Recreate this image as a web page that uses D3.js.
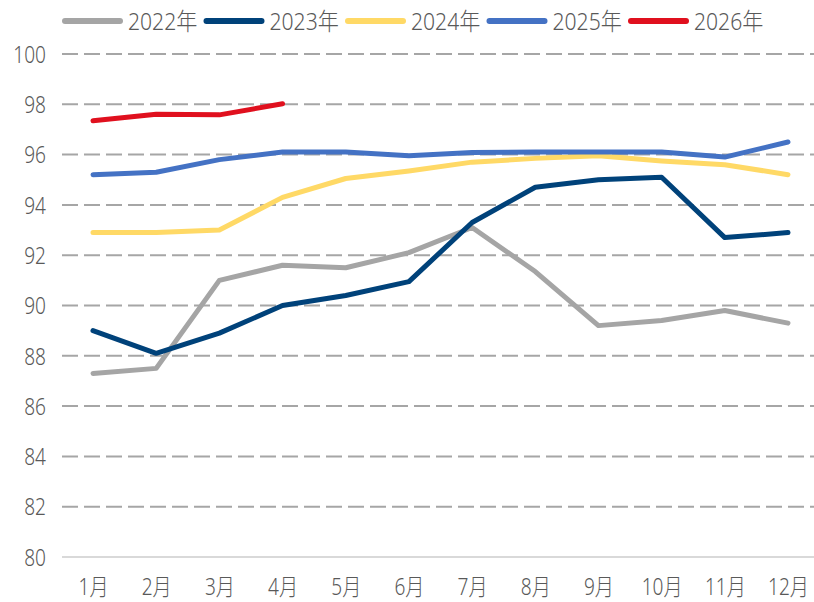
<!DOCTYPE html>
<html>
<head>
<meta charset="utf-8">
<script src="https://cdn.jsdelivr.net/npm/d3@7"></script>
<style>
  body { margin: 0; background: #fff; }
  svg text { font-family: "Noto Sans", "Noto Sans CJK SC", sans-serif; font-weight: 300; fill: #595959; }
</style>
</head>
<body>
<div class="canvas"></div>
<script>
// data
const months = ["1月", "2月", "3月", "4月", "5月", "6月", "7月", "8月", "9月", "10月", "11月", "12月"];
const yTicks = [80, 82, 84, 86, 88, 90, 92, 94, 96, 98, 100];
const seriesNames = ["2022年", "2023年", "2024年", "2025年", "2026年"];
const colors = ["#a5a5a5", "#00427a", "#ffd966", "#4472c4", "#e0101e"];

const v2022 = [87.3, 87.5, 91.0, 91.6, 91.5, 92.1, 93.1, 91.35, 89.2, 89.4, 89.8, 89.3];
const v2023 = [89.0, 88.1, 88.9, 90.0, 90.4, 90.95, 93.3, 94.7, 95.0, 95.1, 92.7, 92.9];
const v2024 = [92.9, 92.9, 93.0, 94.3, 95.05, 95.35, 95.7, 95.85, 95.95, 95.75, 95.6, 95.2];
const v2025 = [95.2, 95.3, 95.8, 96.1, 96.1, 95.95, 96.08, 96.1, 96.1, 96.1, 95.9, 96.5];
const v2026 = [97.35, 97.6, 97.58, 98.02];

const allSeries = [v2022, v2023, v2024, v2025, v2026];

const width = 814;
const height = 602;

const svg = d3
  .select(".canvas")
  .append("svg")
  .attr("width", width)
  .attr("height", height);

// scales
const x = d3.scalePoint().domain(months).range([93, 788]);
const y = d3.scaleLinear().domain([80, 100]).range([557, 54]);
const gridLeft = 62;

// gridlines
svg
  .append("g")
  .attr("class", "grid")
  .selectAll("line")
  .data(yTicks.filter((d) => d > 80))
  .enter()
  .append("line")
  .attr("x1", gridLeft)
  .attr("x2", width)
  .attr("y1", (d) => y(d))
  .attr("y2", (d) => y(d))
  .attr("stroke", "#a6a6a6")
  .attr("stroke-width", 2)
  .attr("stroke-dasharray", "16 6");

// baseline
svg
  .append("line")
  .attr("x1", gridLeft)
  .attr("x2", width)
  .attr("y1", y(80))
  .attr("y2", y(80))
  .attr("stroke", "#d9d9d9")
  .attr("stroke-width", 2);

// y axis labels (narrowed to mimic the condensed face)
const yAxis = d3.axisLeft(y).tickValues(yTicks).tickSize(0).tickPadding(0);
const yAxisGroup = svg.append("g").attr("transform", "translate(46,0)").call(yAxis);
yAxisGroup.select(".domain").remove();
yAxisGroup
  .selectAll("text")
  .attr("font-size", 23)
  .attr("dy", "0.36em")
  .attr("transform", "scale(0.83,1)");

// x axis labels
const xAxis = d3.axisBottom(x).tickSize(0).tickPadding(0);
const xAxisGroup = svg.append("g").attr("transform", "translate(0,595)").call(xAxis);
xAxisGroup.select(".domain").remove();
xAxisGroup
  .selectAll("text")
  .attr("font-size", 23)
  .attr("dy", 0)
  .attr("transform", "scale(0.83,1)");

// lines
const line = d3
  .line()
  .x((d, i) => x(months[i]))
  .y((d) => y(d));

svg
  .append("g")
  .selectAll("path")
  .data(allSeries)
  .enter()
  .append("path")
  .attr("d", line)
  .attr("fill", "none")
  .attr("stroke", (d, i) => colors[i])
  .attr("stroke-width", 5)
  .attr("stroke-linecap", "round")
  .attr("stroke-linejoin", "round");

// legend
const legend = svg
  .append("g")
  .selectAll("g")
  .data(seriesNames)
  .enter()
  .append("g")
  .attr("transform", (d, i) => `translate(${63 + i * 141.5}, 21)`);

legend
  .append("line")
  .attr("x1", 2)
  .attr("x2", 57)
  .attr("stroke", (d, i) => colors[i])
  .attr("stroke-width", 6)
  .attr("stroke-linecap", "round");

legend
  .append("text")
  .attr("transform", "translate(65,0) scale(0.88,1)")
  .attr("dy", "0.36em")
  .attr("font-size", 24)
  .text((d) => d);
</script>
</body>
</html>
